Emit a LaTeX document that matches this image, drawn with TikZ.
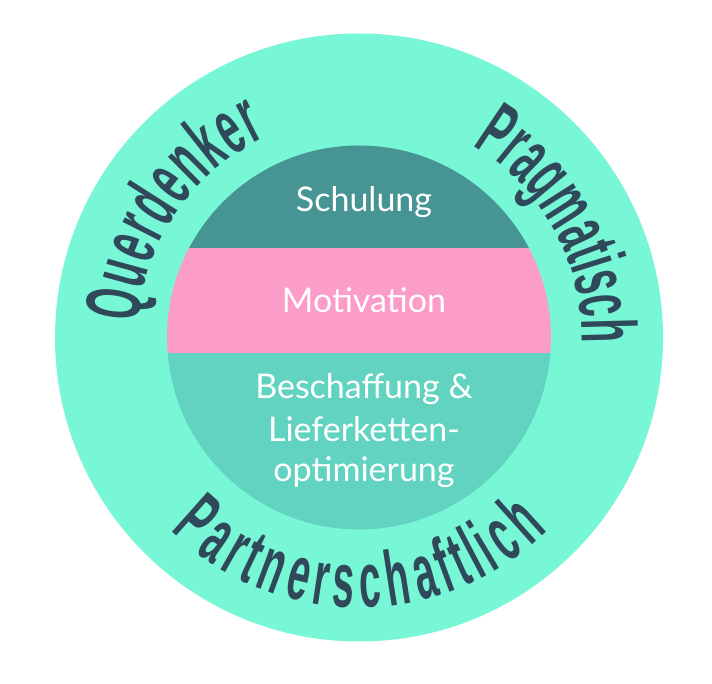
\documentclass[tikz,border=0pt]{standalone}
\usepackage{fontspec}
\usetikzlibrary{decorations.text}
\newfontfamily\arcfont{Liberation Sans}[FakeStretch=0.5]
\newfontfamily\innerfont{Lato}
\definecolor{outerc}{RGB}{120,247,214}
\definecolor{topband}{RGB}{71,148,148}
\definecolor{midband}{RGB}{252,156,200}
\definecolor{botband}{RGB}{98,211,192}
\definecolor{txt}{RGB}{47,72,90}
\newcommand\arcfmt{\arcfont\bfseries\fontsize{78pt}{78pt}\selectfont\color{txt}}
\begin{document}
\begin{tikzpicture}[x=1pt,y=1pt,
  innertext/.style={font=\innerfont\fontsize{34pt}{40pt}\selectfont, text=white, inner sep=0pt, anchor=base},
  arctext/.style={decorate, color=txt, decoration={text along path, text align=fit to path, text={|\arcfmt|#1}}}]
\fill[white] (-359,-346.5) rectangle (353,337.5);
\useasboundingbox (-359,-346.5) rectangle (353,337.5);
% outer ring
\fill[outerc] (0,0) circle (304pt);
% inner disc with bands
\begin{scope}
  \clip (0,0) circle (192pt);
  \fill[topband] (-200,89.5) rectangle (200,200);
  \fill[midband] (-200,-15.5) rectangle (200,89.5);
  \fill[botband] (-200,-200) rectangle (200,-15.5);
\end{scope}
% inner labels
\node[innertext] (schulung) at (5,125.5) {Schulung};
\node[innertext] (motivation) at (5,24.5) {Motivation};
\node[innertext] (besch1) at (5,-61.5) {Beschaffung \&};
\node[innertext] (besch2) at (5,-104.5) {Lieferketten-};
\node[innertext] (besch3) at (5,-144.5) {optimierung};
% arc labels
\path[arctext=Querdenker] (176:221pt) arc[start angle=176, end angle=115, radius=221pt];
\path[arctext=Pragmatisch] (59.5:223pt) arc[start angle=59.5, end angle=-1.5, radius=223pt];
\path[arctext=Partnerschaftlich, decoration={raise=-53pt}] (225:217pt) arc[start angle=225, end angle=315, radius=217pt];
\end{tikzpicture}
\end{document}
